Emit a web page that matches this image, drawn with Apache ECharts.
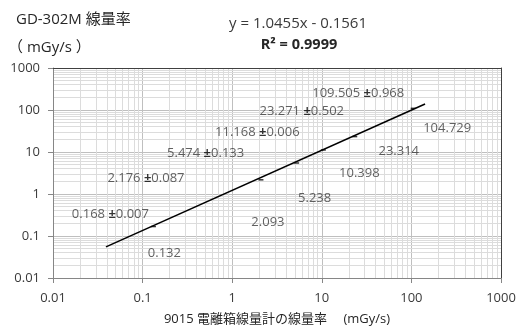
<!DOCTYPE html>
<html>
<head>
<meta charset="utf-8">
<script src="https://cdn.jsdelivr.net/npm/echarts@6/dist/echarts.min.js"></script>
<style>
  html, body { margin: 0; padding: 0; background: #fff; }
  #chart { width: 520px; height: 328px; }
</style>
</head>
<body>
<div id="chart"></div>
<script>
// 9015 ionisation chamber reading (x) vs GD-302M reading (y), mGy/s
const ref9015 = [0.132, 2.093, 5.238, 10.398, 23.314, 104.729];
const gd302m = [0.168, 2.176, 5.474, 11.168, 23.271, 109.505];
const gdError = [0.007, 0.087, 0.133, 0.006, 0.502, 0.968];

// fitted trend line endpoints
const trendX = [0.039, 142];
const trendY = [0.055, 139];

const axisTicks = [0.01, 0.1, 1, 10, 100, 1000];

// label placement (pixel offsets from each point)
const upperOffsets = [[-43, -12], [-115, -2], [-91, -10], [-66, -18], [-53, -25], [-55, -15]];
const lowerOffsets = [[11, 27], [7, 42], [18, 35], [36, 23], [44, 15], [34, 20]];

const FONT = '"Open Sans", "Noto Sans CJK JP", sans-serif';
const TXT = '#3a3a3a';

// minor grid positions 2..9 within each decade
const minorVals = [];
for (let d = 0; d < axisTicks.length - 1; d++) {
  for (let k = 2; k <= 9; k++) minorVals.push(+(axisTicks[d] * k).toPrecision(6));
}

const fmt = v => String(+(+v).toPrecision(6));

const chart = echarts.init(document.getElementById('chart'), null, { renderer: 'canvas' });

const logAxisBase = {
  type: 'log', logBase: 10, min: 0.01, max: 1000
};

chart.setOption({
  animation: false,
  backgroundColor: '#fff',
  textStyle: { fontFamily: FONT },
  title: [
    { text: 'GD-302M 線量率', left: 11, top: 7,
      textStyle: { fontSize: 15, fontWeight: 'normal', color: '#262626', fontFamily: FONT } },
    { text: '（ mGy/s ）', left: 3, top: 35,
      textStyle: { fontSize: 15, fontWeight: 'normal', color: '#262626', fontFamily: FONT } },
    { text: 'y = 1.0455x - 0.1561', left: 293, top: 11, textAlign: 'center',
      textStyle: { fontSize: 15, fontWeight: 'normal', color: TXT, fontFamily: FONT } },
    { text: 'R² = 0.9999', left: 294, top: 33, textAlign: 'center',
      textStyle: { fontSize: 14.5, fontWeight: 'bold', color: '#262626', fontFamily: FONT } }
  ],
  grid: { left: 53, right: 19, top: 68, bottom: 50, containLabel: false, outerBoundsMode: 'none' },
  xAxis: [
    Object.assign({}, logAxisBase, {
      position: 'bottom',
      name: '9015 電離箱線量計の線量率　 (mGy/s)',
      nameLocation: 'middle', nameGap: 35,
      nameTextStyle: { fontSize: 13, color: '#262626', fontFamily: FONT },
      axisLine: { lineStyle: { color: '#868686', width: 1 } },
      axisTick: { show: true, length: 5, lineStyle: { color: '#868686' } },
      axisLabel: { fontSize: 13, color: TXT, margin: 14, formatter: fmt, fontFamily: FONT },
      splitLine: { show: true, lineStyle: { color: '#bfbfbf', width: 1 } }
    }),
    Object.assign({}, logAxisBase, {
      position: 'top',
      axisLine: { lineStyle: { color: '#404040', width: 1 } },
      axisTick: { show: false }, axisLabel: { show: false }, splitLine: { show: false }
    })
  ],
  yAxis: [
    Object.assign({}, logAxisBase, {
      position: 'left',
      axisLine: { show: true, lineStyle: { color: '#868686', width: 1 } },
      axisTick: { show: true, length: 5, lineStyle: { color: '#868686' } },
      axisLabel: { fontSize: 13, color: TXT, margin: 13, formatter: fmt, fontFamily: FONT },
      splitLine: { show: true, lineStyle: { color: '#bfbfbf', width: 1 } }
    }),
    Object.assign({}, logAxisBase, {
      position: 'right',
      axisLine: { show: true, lineStyle: { color: '#404040', width: 1 } },
      axisTick: { show: false }, axisLabel: { show: false }, splitLine: { show: false }
    })
  ],
  series: [
    {
      // minor grid lines
      type: 'scatter', data: [], silent: true, z: 0,
      markLine: {
        silent: true, symbol: 'none', animation: false, z: 0,
        label: { show: false },
        lineStyle: { color: '#dcdcdc', width: 1, type: 'solid' },
        emphasis: { disabled: true },
        data: minorVals.map(v => ({ xAxis: v })).concat(minorVals.map(v => ({ yAxis: v })))
      }
    },
    {
      name: 'trend', type: 'line', z: 3,
      data: trendX.map((x, i) => [x, trendY[i]]),
      showSymbol: false, symbol: 'none',
      lineStyle: { color: '#000', width: 1.5 }
    },
    {
      name: 'GD-302M', type: 'scatter', z: 4,
      symbol: 'rect', symbolSize: [5, 1.5],
      itemStyle: { color: '#000' },
      data: ref9015.map((x, i) => ({
        value: [x, gd302m[i]],
        label: { offset: upperOffsets[i] }
      })),
      label: {
        show: true, position: 'inside', align: 'center', verticalAlign: 'middle',
        formatter: p => '{v|' + fmt(gd302m[p.dataIndex]) + ' }{pm|±}{v|' + fmt(gdError[p.dataIndex]) + '}',
        rich: {
          v: { fontSize: 13, color: TXT, fontFamily: FONT },
          pm: { fontSize: 13, color: '#000', fontWeight: 'bold', fontFamily: FONT }
        }
      }
    },
    {
      name: '9015', type: 'scatter', z: 4,
      symbolSize: 0,
      data: ref9015.map((x, i) => ({
        value: [x, gd302m[i]],
        label: { offset: lowerOffsets[i] }
      })),
      label: {
        show: true, position: 'inside', align: 'center', verticalAlign: 'middle',
        formatter: p => fmt(ref9015[p.dataIndex]),
        fontSize: 13, color: TXT, fontFamily: FONT
      }
    }
  ]
});
</script>
</body>
</html>
